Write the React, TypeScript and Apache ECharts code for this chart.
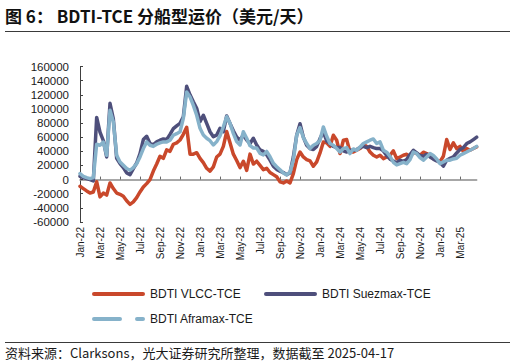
import React, { useEffect, useRef } from "react";
import * as echarts from "echarts";

// Tick labels shown every two months on the category axis
const monthLabels = [
  "Jan-22", "Mar-22", "May-22", "Jul-22", "Sep-22", "Nov-22",
  "Jan-23", "Mar-23", "May-23", "Jul-23", "Sep-23", "Nov-23",
  "Jan-24", "Mar-24", "May-24", "Jul-24", "Sep-24", "Nov-24",
  "Jan-25", "Mar-25",
];

const seriesNames = ["BDTI VLCC-TCE", "BDTI Suezmax-TCE", "BDTI Aframax-TCE"];
const seriesColors = ["#C9482B", "#4E4F7B", "#86B2CA"];

const titleText = "图 6： BDTI-TCE 分船型运价（美元/天）";
const sourceText = "资料来源：Clarksons，光大证券研究所整理，数据截至 2025-04-17";

// Observation dates: 1st, 11th and 21st of each month, last on 2025-04-17
const pad = (n: number) => (n < 10 ? "0" + n : "" + n);
function buildDates(): string[] {
  const out: string[] = [];
  for (let y = 2022; y <= 2025; y++) {
    for (let m = 1; m <= 12; m++) {
      for (const d of [1, 11, 21]) {
        const s = `${y}-${pad(m)}-${pad(d)}`;
        if (s <= "2025-04-11") out.push(s);
      }
    }
  }
  out.push("2025-04-17");
  return out;
}
const dates = buildDates();

// USD/day
const vlcc = [
  -9400, -12700, -16000, -19000, -17500, -3000, -24500, -19000, -22000, -4700,
  -12700, -19000, -20800, -23600, -30000, -35000, -31600, -25500, -17500, -10400,
  -5700, 0, 12000, 22000, 33000, 30000, 42000, 40000, 50000, 52000,
  56000, 64000, 74000, 36000, 36000, 38000, 30000, 24000, 16000, 12000,
  18000, 32000, 36000, 47000, 68000, 52000, 36000, 27000, 17000, 26000,
  13000, 36000, 22000, 26000, 20000, 14000, 16000, 10000, 7000, 4000,
  -3300, -4700, -1900, -4700, 8500, 28300, 39000, 32000, 28300, 26400,
  18900, 25000, 37700, 53300, 51900, 47000, 62700, 55700, 36800, 55700,
  56600, 39000, 39000, 41500, 43900, 50000, 47000, 39000, 34400, 32000,
  34400, 29700, 32000, 34400, 40600, 29700, 32000, 34400, 35800, 32000,
  38700, 36800, 34400, 38700, 36800, 34000, 29700, 27400, 25500, 33000,
  56600, 42500, 51900, 43900, 47000, 39600, 43900, 41500, 43900, 46200,
];

const suezmax = [
  4700, 2800, 1400, 0, -1900, 88000, 67000, 55000, 32000, 108000,
  86000, 30000, 22600, 17000, 9400, 7000, 15600, 23500, 36800, 56600,
  61300, 51000, 49500, 53300, 55700, 57500, 56600, 64000, 72000, 76000,
  79500, 89000, 132000, 120000, 110000, 101000, 82000, 91000, 79500, 67700,
  60700, 63000, 72500, 67700, 90000, 79500, 69000, 60000, 56000, 63000,
  56000, 51000, 58500, 49000, 42000, 39800, 35000, 27600, 19000, 14500,
  12000, 10000, 7000, 9400, 32000, 62700, 79000, 60000, 48600, 43900,
  42500, 47000, 58000, 67500, 54700, 51000, 47000, 45300, 45300, 40600,
  39000, 41500, 41500, 42500, 45300, 47000, 45300, 47000, 45300, 43900,
  43900, 40600, 34000, 29000, 26400, 23600, 27400, 25500, 28300, 35400,
  41500, 37700, 34000, 33000, 35800, 32000, 29000, 26400, 24500, 18900,
  27400, 30000, 32000, 37700, 42500, 45300, 51000, 53300, 56600, 60000,
];

const aframax = [
  8500, 4700, 2800, 1400, 2800, 50000, 48600, 53000, 34400, 98000,
  81600, 34400, 25000, 20300, 15600, 13200, 17000, 22600, 32000, 43900,
  53300, 48600, 47000, 50000, 52000, 53300, 53300, 55700, 62700, 65000,
  67700, 86600, 124000, 117000, 105000, 91000, 72500, 63000, 58500, 55000,
  49000, 53700, 61700, 74800, 89000, 79500, 65400, 53700, 49000, 67700,
  58500, 48000, 44700, 44700, 37100, 35000, 39800, 32300, 23000, 18200,
  14000, 9400, 6600, 10800, 27400, 62700, 73600, 59500, 51000, 43900,
  48600, 51000, 55700, 74500, 61300, 51000, 48600, 43900, 39000, 43900,
  45300, 36800, 43400, 41500, 46200, 51000, 53300, 55700, 57500, 51000,
  53300, 41500, 38700, 33000, 24500, 20800, 22600, 24500, 22600, 28300,
  39000, 36800, 31100, 27400, 32000, 36800, 34000, 29200, 22600, 25000,
  27400, 27400, 29200, 30200, 34400, 36800, 39000, 41500, 43900, 47000,
];

const yMin = -60000;
const yMax = 160000;
const yStep = 20000;

const LATIN = '"Liberation Sans", Arial, sans-serif';
const CJK = '"Noto Sans CJK SC", "Noto Sans", sans-serif';

function labelFor(v: string): string {
  const i = dates.indexOf(v);
  if (i < 0 || i % 6 !== 0) return "";
  return monthLabels[i / 6] ?? "";
}

export default function App() {
  const ref = useRef<HTMLDivElement | null>(null);

  useEffect(() => {
    if (!ref.current) return;
    const chart = echarts.init(ref.current, undefined, { renderer: "svg" });

    const values = [vlcc, suezmax, aframax];

    const legendRows = [
      { name: seriesNames[0], color: seriesColors[0], x: 94, y: 294, dash: null as number[] | null },
      { name: seriesNames[1], color: seriesColors[1], x: 266, y: 294, dash: null as number[] | null },
      { name: seriesNames[2], color: seriesColors[2], x: 94, y: 319, dash: [26, 17] },
    ];

    const legendGraphics: any[] = [];
    legendRows.forEach((r) => {
      legendGraphics.push({
        type: "line",
        shape: { x1: r.x, y1: r.y, x2: r.x + 49, y2: r.y },
        style: {
          stroke: r.color,
          lineWidth: 4,
          lineCap: "round",
          lineDash: r.dash || undefined,
        },
      });
      legendGraphics.push({
        type: "text",
        x: r.x + 56,
        y: r.y,
        style: {
          text: r.name,
          fill: "#1a1a1a",
          fontSize: 12,
          fontFamily: LATIN,
          verticalAlign: "middle",
          align: "left",
        },
      });
    });

    chart.setOption({
      animation: false,
      backgroundColor: "#ffffff",
      grid: {
        left: 80,
        top: 66.5,
        width: 396.7,
        height: 155.5,
        containLabel: false,
        outerBoundsMode: "none",
      },
      xAxis: [
        {
          type: "category",
          data: dates,
          boundaryGap: false,
          position: "bottom",
          axisLine: { show: true, onZero: true, lineStyle: { color: "#8a8a8a", width: 1.5 } },
          axisTick: { show: true, inside: true, length: 3, interval: 5, lineStyle: { color: "#6a6a6a", width: 1 } },
          axisLabel: { show: false },
          splitLine: { show: false },
        },
        {
          type: "category",
          data: dates,
          boundaryGap: false,
          position: "bottom",
          axisLine: { show: false, onZero: false },
          axisTick: { show: false },
          axisLabel: {
            show: true,
            interval: 5,
            rotate: 90,
            margin: 5,
            fontSize: 10,
            fontFamily: LATIN,
            color: "#1a1a1a",
            formatter: (v: string) => labelFor(v),
          },
          splitLine: { show: false },
        },
      ],
      yAxis: {
        type: "value",
        min: yMin,
        max: yMax,
        interval: yStep,
        axisLine: { show: true, onZero: false, lineStyle: { color: "#404040", width: 1 } },
        axisTick: { show: true, inside: true, length: 3, lineStyle: { color: "#404040" } },
        axisLabel: {
          fontSize: 11.5,
          fontFamily: LATIN,
          color: "#1a1a1a",
          margin: 11,
          formatter: (v: number) => String(v),
        },
        splitLine: { show: false },
      },
      series: seriesNames.map((name, k) => ({
        name,
        type: "line",
        xAxisIndex: 0,
        yAxisIndex: 0,
        data: values[k],
        symbol: "none",
        showSymbol: false,
        smooth: false,
        lineStyle: { width: 3.5, color: seriesColors[k], cap: "round", join: "round" },
        itemStyle: { color: seriesColors[k] },
        emphasis: { disabled: true },
      })),
      graphic: [
        {
          type: "text",
          x: 5,
          y: 15,
          style: {
            text: titleText,
            fill: "#111111",
            fontSize: 17,
            fontWeight: "bold",
            fontFamily: CJK,
            verticalAlign: "middle",
          },
        },
        {
          type: "line",
          shape: { x1: 5, y1: 31.5, x2: 510, y2: 31.5 },
          style: { stroke: "#3a3a3a", lineWidth: 1 },
        },
        {
          type: "line",
          shape: { x1: 5, y1: 342.5, x2: 510, y2: 342.5 },
          style: { stroke: "#3a3a3a", lineWidth: 1 },
        },
        {
          type: "text",
          x: 5,
          y: 352,
          style: {
            text: sourceText,
            fill: "#1a1a1a",
            fontSize: 13,
            fontFamily: CJK,
            verticalAlign: "middle",
          },
        },
        ...legendGraphics,
      ],
    });

    return () => {
      chart.dispose();
    };
  }, []);

  return (
    <div
      ref={ref}
      style={{ position: "fixed", left: 0, top: 0, width: 516, height: 364, background: "#fff" }}
    />
  );
}
